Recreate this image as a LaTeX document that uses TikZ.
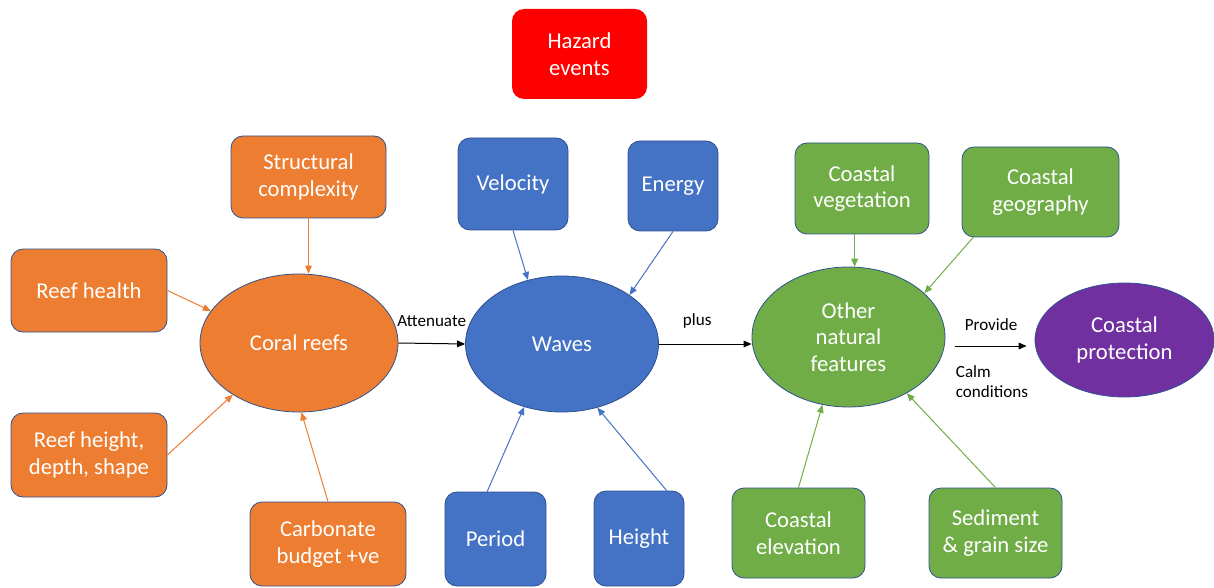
\documentclass[tikz,border=0pt]{standalone}
\usepackage{fontspec}
\setmainfont{Carlito}
\usetikzlibrary{arrows.meta,calc,shapes.geometric}
\definecolor{reefOrange}{HTML}{ED7D31}
\definecolor{waveBlue}{HTML}{4472C4}
\definecolor{landGreen}{HTML}{70AD47}
\definecolor{protPurple}{HTML}{7030A0}
\definecolor{edgeBlue}{HTML}{2F528F}
\tikzset{
    box/.style = {
        draw = edgeBlue,
        line width = 0.6pt,
        rounded corners = 9pt,
        text = white,
        align = center,
        inner sep = 0pt,
        font = \fontsize{17}{20}\selectfont,
        },
    oval/.style = {
        ellipse,
        draw = edgeBlue,
        line width = 0.6pt,
        text = white,
        align = center,
        inner sep = 0pt,
        font = \fontsize{17}{20}\selectfont,
        },
    dims/.style 2 args = {
        minimum width = #1*0.75pt,
        minimum height = #2*0.75pt,
        },
    link/.style = {
        -{Triangle[length=6pt, width=5pt]},
        line width = 0.75pt,
        },
    lbl/.style = {
        font = \fontsize{12.8}{15}\selectfont,
        inner sep = 0pt,
        },
}

\begin{document}
\begin{tikzpicture}[x=0.75pt, y=-0.75pt]
    \useasboundingbox (0,0) rectangle (1214,588);

    % top
    \node[box, draw=none, fill=red, dims={135}{90}] (haz) at (579.5,54) {Hazard\\events};

    % reefs
    \node[oval, fill=reefOrange, dims={198}{138}] (cr) at (299,343) {Coral reefs};
    \node[box, fill=reefOrange, dims={155}{82}] (sc) at (308.5,177) {Structural\\complexity};
    \node[box, fill=reefOrange, dims={156}{83}] (rh) at (89,290.5) {Reef health};
    \node[box, fill=reefOrange, dims={156}{84}] (rht) at (89,455) {Reef height,\\depth, shape};
    \node[box, fill=reefOrange, dims={156}{84}] (cb) at (328,544) {Carbonate\\budget +ve};

    % waves
    \node[oval, fill=waveBlue, dims={193}{136}] (wv) at (562,344) {Waves};
    \node[box, fill=waveBlue, dims={110}{92}] (vel) at (513,184) {Velocity};
    \node[box, fill=waveBlue, dims={90}{90}] (en) at (673,186) {Energy};
    \node[box, fill=waveBlue, dims={101}{94}] (per) at (495.5,539) {Period};
    \node[box, fill=waveBlue, dims={90}{95}] (ht) at (639,538.5) {Height};

    % other features
    \node[oval, fill=landGreen, dims={193}{140}] (ot) at (848.5,337) {Other\\natural\\features};
    \node[box, fill=landGreen, dims={134}{91}] (cv) at (862,188.5) {Coastal\\vegetation};
    \node[box, fill=landGreen, dims={157}{90}] (cg) at (1040.5,192) {Coastal\\geography};
    \node[box, fill=landGreen, dims={133}{90}] (ce) at (798.5,533) {Coastal\\elevation};
    \node[box, fill=landGreen, dims={133}{90}] (sed) at (995.5,533) {Sediment\\\& grain size};

    \node[oval, fill=protPurple, dims={179}{114}] (cp) at (1124.5,340) {Coastal\\protection};

    \draw[link, reefOrange] (sc.south) -- (sc.south |- cr.north);
    \draw[link, reefOrange] (rh.east) -- (cr.160);
    \draw[link, reefOrange] (rht.east) -- (cr.218);
    \draw[link, reefOrange] (cb.north) -- (cr.272);

    \draw[link, waveBlue] (vel.south) -- (wv.118);
    \draw[link, waveBlue] (en.south) -- (wv.36);
    \draw[link, waveBlue] (per.100) -- (wv.239);
    \draw[link, waveBlue] (ht.60) -- (wv.299);

    \draw[link, landGreen] (cv.south -| ot.85) -- (ot.85);
    \draw[link, landGreen] (cg.214) -- (ot.30);
    \draw[link, landGreen] (ce.north) -- (ot.249);
    \draw[link, landGreen] (sed.north) -- (ot.316);

    \draw[link] (cr.east) -- node[lbl, yshift=17pt] (att) {Attenuate} (wv.west);
    \draw[link] (wv.east) -- node[lbl, xshift=-6pt, yshift=17pt] (pls) {plus} (wv.east -| ot.west);
    \draw[link] ($(ot.east)+(10,9)$) --
        node[lbl, yshift=16pt] (prov) {Provide}
        node[lbl, pos=0, anchor=west, align=left, yshift=-27pt] (calm) {Calm\\conditions}
        ($(cp.west)+(-8,6)$);

\end{tikzpicture}
\end{document}
